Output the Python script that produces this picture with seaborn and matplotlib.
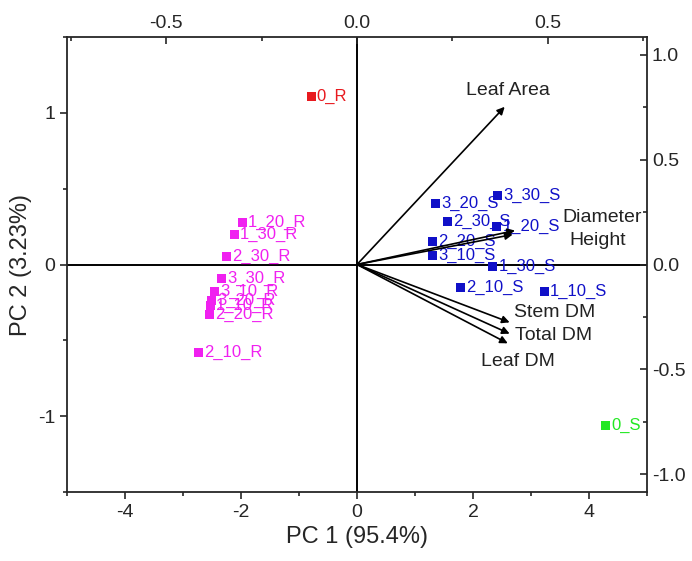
import matplotlib
matplotlib.use("Agg")
import matplotlib.pyplot as plt
import seaborn as sns
import pandas as pd
from matplotlib.ticker import MultipleLocator, FormatStrFormatter

# ---------------- data ----------------
sample_names = ["0_R", "1_10_R", "1_20_R", "1_30_R", "2_10_R", "2_20_R", "2_30_R",
                "3_10_R", "3_20_R", "3_30_R",
                "0_S", "1_10_S", "1_20_S", "1_30_S", "2_10_S", "2_20_S", "2_30_S",
                "3_10_S", "3_20_S", "3_30_S"]
pc1_scores = [-0.79, -2.53, -1.98, -2.12, -2.74, -2.55, -2.25, -2.45, -2.51, -2.33,
              4.29, 3.23, 2.41, 2.34, 1.78, 1.30, 1.56, 1.30, 1.36, 2.42]
pc2_scores = [1.105, -0.27, 0.278, 0.197, -0.58, -0.33, 0.05, -0.175, -0.237, -0.092,
              -1.06, -0.175, 0.252, -0.015, -0.153, 0.153, 0.285, 0.059, 0.40, 0.454]
groups = ["control_R"] + ["R"] * 9 + ["control_S"] + ["S"] * 9

variables = ["Leaf Area", "Diameter", "Height", "Stem DM", "Total DM", "Leaf DM"]
load_pc1 = [0.387, 0.414, 0.408, 0.400, 0.400, 0.395]
load_pc2 = [0.752, 0.162, 0.143, -0.276, -0.330, -0.376]

# ---------------- style ----------------
sns.set_style("ticks")
plt.rcParams["font.family"] = ["Liberation Sans", "DejaVu Sans"]
plt.rcParams["axes.unicode_minus"] = False

palette = {"control_R": "#E8191E", "R": "#F020F0", "control_S": "#22E822", "S": "#1010C8"}

fig = plt.figure(figsize=(6.92, 5.61), dpi=100)
pos = [67 / 692, 1 - 492 / 561, (647 - 67) / 692, (492 - 37) / 561]
ax = fig.add_axes(pos)

df = pd.DataFrame({"PC1": pc1_scores, "PC2": pc2_scores, "group": groups, "name": sample_names})

ax.axhline(0, color="black", lw=1.4, zorder=1)
ax.axvline(0, color="black", lw=1.4, zorder=1)

sns.scatterplot(data=df, x="PC1", y="PC2", hue="group", palette=palette, marker="s",
                s=42, edgecolor="none", legend=False, ax=ax, zorder=3)

for _, r in df.iterrows():
    ax.annotate(r["name"], (r["PC1"], r["PC2"]), xytext=(4, 0), textcoords="offset points",
                ha="left", va="center", fontsize=12, color=palette[r["group"]], zorder=4)

ax.set_xlim(-5, 5)
ax.set_ylim(-1.5, 1.5)
ax.xaxis.set_major_locator(MultipleLocator(2))
ax.xaxis.set_minor_locator(MultipleLocator(1))
ax.yaxis.set_major_locator(MultipleLocator(1))
ax.yaxis.set_minor_locator(MultipleLocator(0.5))
ax.tick_params(which="both", direction="out", width=1.2, labelsize=14)
ax.tick_params(which="major", length=5)
ax.tick_params(which="minor", length=3)
ax.set_xlabel("PC 1 (95.4%)", fontsize=17)
ax.set_ylabel("PC 2 (3.23%)", fontsize=17)
for sp in ax.spines.values():
    sp.set_linewidth(1.3)
    sp.set_visible(True)

# loadings axes (top / right)
ax2 = fig.add_axes(pos, frameon=False)
ax2.set_xlim(-0.76, 0.76)
ax2.set_ylim(-1.085, 1.085)
ax2.xaxis.tick_top()
ax2.yaxis.tick_right()
ax2.xaxis.set_major_locator(MultipleLocator(0.5))
ax2.xaxis.set_minor_locator(MultipleLocator(0.25))
ax2.yaxis.set_major_locator(MultipleLocator(0.5))
ax2.yaxis.set_minor_locator(MultipleLocator(0.25))
ax2.xaxis.set_major_formatter(FormatStrFormatter("%.1f"))
ax2.yaxis.set_major_formatter(FormatStrFormatter("%.1f"))
ax2.tick_params(which="both", direction="in", width=1.2, labelsize=14)
ax2.tick_params(which="major", length=5)
ax2.tick_params(which="minor", length=3)

label_offsets = [(-28, 12), (34, 9.5), (41, -4), (3, 7), (4, -1), (-19, -13)]
for name, lx, ly, off in zip(variables, load_pc1, load_pc2, label_offsets):
    ax2.annotate("", xy=(lx, ly), xytext=(0, 0),
                 arrowprops=dict(arrowstyle="-|>", color="black", lw=1.2,
                                 mutation_scale=11, shrinkA=0, shrinkB=0))
    ax2.annotate(name, (lx, ly), xytext=off, textcoords="offset points",
                 ha="left", va="center", fontsize=14, color="#222222")

fig.savefig("out.png", dpi=100)
